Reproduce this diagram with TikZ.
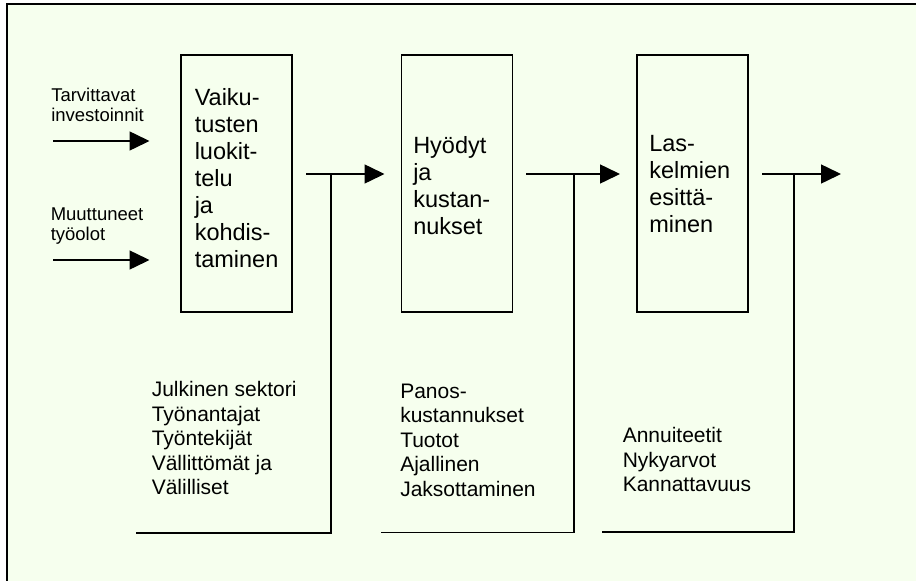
\documentclass[tikz,border=0pt]{standalone}
\usepackage{fontspec}
\setmainfont{Liberation Sans}
\usetikzlibrary{arrows.meta}
\definecolor{bgc}{RGB}{246,255,238}
\begin{document}
\begin{tikzpicture}[x=1pt,y=-1pt,
  line width=1.5pt,
  stage/.style={draw, line width=1.6pt, minimum width=111pt, minimum height=257pt, inner sep=0pt, anchor=north west},
  boxtext/.style={anchor=north west, inner sep=0pt, align=left, font=\fontsize{23.5}{27}\selectfont},
  listtext/.style={anchor=north west, inner sep=0pt, align=left, font=\fontsize{21}{24.5}\selectfont},
  sidetext/.style={anchor=north west, inner sep=0pt, align=left, font=\fontsize{18.5}{20}\selectfont},
  arr/.style={-{Triangle[length=20pt,width=19pt]}},
  link/.style={line width=1.5pt},
  frame/.style={line width=2pt, black}
  ]
\useasboundingbox (0,0) rectangle (916,581);
\fill[white] (0,0) rectangle (916,581);
\fill[bgc] (6.5,3.5) rectangle (916,581);
\draw[frame] (6.5,581) -- (6.5,3.5) -- (916,3.5);

% stages
\node[stage] (s1) at (180,54) {};
\node[stage] (s2) at (400.5,54) {};
\node[stage] (s3) at (636.3,54) {};

% box texts
\node[boxtext] (t1) at (194,88) {Vaiku-\\tusten\\luokit-\\telu\\ja\\kohdis-\\taminen};
\node[boxtext] (t2) at (412.5,136) {Hyödyt\\ja\\kustan-\\nukset};
\node[boxtext] (t3) at (648.5,135) {Las-\\kelmien\\esittä-\\minen};

% side labels
\node[sidetext] (la) at (50.5,87) {Tarvittavat\\investoinnit};
\node[sidetext] (lb) at (50,207) {Muuttuneet\\työolot};

% list texts
\node[listtext] (b1) at (151,381) {Julkinen sektori\\Työnantajat\\Työntekijät\\Vällittömät ja\\Välilliset};
\node[listtext] (b2) at (399.5,383) {Panos-\\kustannukset\\Tuotot\\Ajallinen\\Jaksottaminen};
\node[listtext] (b3) at (622,427) {Annuiteetit\\Nykyarvot\\Kannattavuus};

% input arrows
\coordinate (inA) at (53,141);
\coordinate (inB) at (53,260);
\draw[link, arr, shorten >=30.5pt] (inA) -- (inA -| s1.west);
\draw[link, arr, shorten >=30.5pt] (inB) -- (inB -| s1.west);

% connector 1
\coordinate (o1) at (306,174);
\coordinate (k1) at (331,174);
\coordinate (f1) at (136,533);
\draw[link, arr, shorten >=16pt] (o1) -- (o1 -| s2.west);
\draw[link] (f1) -- (f1 -| k1) -- (k1);

% connector 2
\coordinate (o2) at (526,174);
\coordinate (k2) at (574,174);
\coordinate (f2) at (381,532.5);
\draw[link, arr, shorten >=16.3pt] (o2) -- (o2 -| s3.west);
\draw[link] (f2) -- (f2 -| k2) -- (k2);

% connector 3
\coordinate (o3) at (762,174);
\coordinate (e3) at (841,174);
\coordinate (k3) at (794,174);
\coordinate (f3) at (602,532);
\draw[link, arr] (o3) -- (e3);
\draw[link] (f3) -- (f3 -| k3) -- (k3);
\end{tikzpicture}
\end{document}
